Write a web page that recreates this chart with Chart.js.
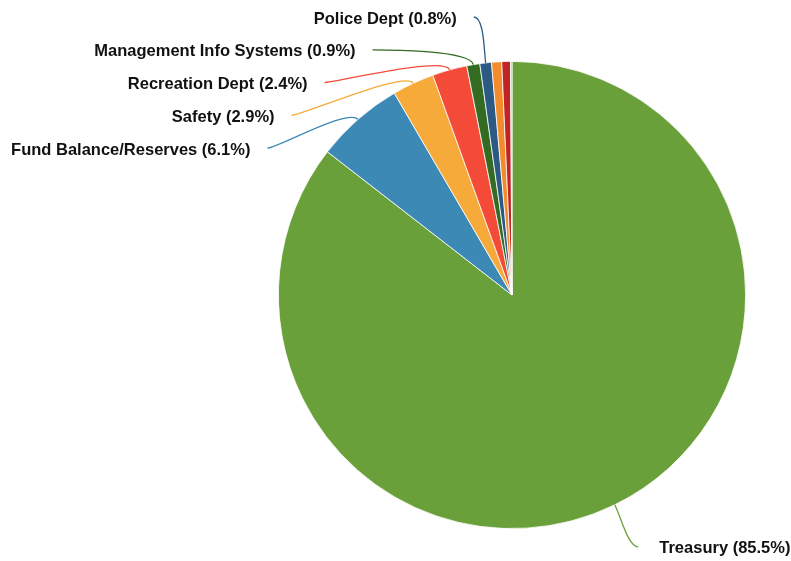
<!DOCTYPE html>
<html>
<head>
<meta charset="utf-8">
<title>Budget by Department</title>
<script src="https://cdn.jsdelivr.net/npm/chart.js@4"></script>
<style>
  html, body { margin: 0; padding: 0; background: #ffffff; }
  #wrap { width: 791px; height: 561px; position: relative; }
</style>
</head>
<body>
<div id="wrap"><canvas id="budgetPie"></canvas></div>
<script>
// departments, clockwise from 12 o'clock
const departments = [
    "Treasury",
    "Fund Balance/Reserves",
    "Safety",
    "Recreation Dept",
    "Management Info Systems",
    "Police Dept",
    "Legal",
    "City Clerk",
    "Council"
];
// share of the budget in percent
const shares = [85.5, 6.1, 2.9, 2.4, 0.9, 0.8, 0.7, 0.6, 0.1];
const sliceColors = [
    '#6aa03a',
    '#3d89b5',
    '#f6aa3a',
    '#f44b38',
    '#336b22',
    '#2b5a85',
    '#f28b2c',
    '#c02424',
    '#a3c97a'
];
// slices smaller than this get no callout
const minLabelShare = 0.8;

const total = shares.reduce((a, b) => a + b, 0);

// draws the leader lines and the outside labels
const calloutPlugin = {
    id: 'callouts',
    afterDatasetsDraw(chart) {
        const ctx = chart.ctx;
        const meta = chart.getDatasetMeta(0);
        // leader lines end on an ellipse around the pie
        const endRx = 287;
        const endRy = 280.5;
        const rowGap = 32.8;
        const topLimit = 17;

        let items = [];
        meta.data.forEach(function(arc, i) {
            if (shares[i] < minLabelShare) return;
            const p = arc.getProps(['x', 'y', 'startAngle', 'endAngle', 'outerRadius'], true);
            const mid = (p.startAngle + p.endAngle) / 2;
            items.push({
                index: i,
                cx: p.x,
                cy: p.y,
                r: p.outerRadius,
                mid: mid,
                side: Math.cos(mid) >= 0 ? 1 : -1,
                y: p.y + endRy * Math.sin(mid)
            });
        });

        // push labels down so they don't overlap
        [1, -1].forEach(function(side) {
            const group = items.filter(it => it.side == side).sort((a, b) => a.y - b.y);
            let prev = -Infinity;
            for (let k = 0; k < group.length; k++) {
                group[k].y = Math.max(group[k].y, prev + rowGap, topLimit);
                prev = group[k].y;
            }
        });

        ctx.save();
        ctx.font = 'bold 16.5px "Liberation Sans", Arial, sans-serif';
        ctx.textBaseline = 'middle';
        items.forEach(function(it) {
            const t = (it.y - it.cy) / endRy;
            const ex = it.cx + it.side * endRx * Math.sqrt(Math.max(1 - t * t, 0));
            const ey = it.y;
            const x0 = it.cx + it.r * Math.cos(it.mid);
            const y0 = it.cy + it.r * Math.sin(it.mid);
            // first handle points out of the slice, second one comes in level with the label
            const c1x = it.cx + (it.r + 15) * Math.cos(it.mid);
            const c1y = it.cy + (it.r + 15) * Math.sin(it.mid);
            const c2x = ex - it.side * 10;

            ctx.beginPath();
            ctx.moveTo(x0, y0);
            ctx.bezierCurveTo(c1x, c1y, c2x, ey, ex, ey);
            ctx.strokeStyle = sliceColors[it.index];
            ctx.lineWidth = 1.3;
            ctx.stroke();

            const pct = (shares[it.index] / total * 100).toFixed(1);
            const text = departments[it.index] + ' (' + pct + '%)';
            ctx.fillStyle = '#111111';
            if (it.side > 0) {
                ctx.textAlign = 'left';
                ctx.fillText(text, ex + 21, ey + 2);
            } else {
                ctx.textAlign = 'right';
                ctx.fillText(text, ex - 17, ey + 2);
            }
        });
        ctx.restore();
    }
};

const ctx = document.getElementById('budgetPie').getContext('2d');
const budgetPie = new Chart(ctx, {
    type: 'pie',
    data: {
        labels: departments,
        datasets: [{
            data: shares,
            backgroundColor: sliceColors,
            borderColor: '#ffffff',
            borderWidth: 0.8,
            hoverOffset: 0
        }]
    },
    options: {
        responsive: true,
        maintainAspectRatio: false,
        animation: false,
        layout: {
            padding: { top: 61, bottom: 32, left: 278, right: 45 }
        },
        plugins: {
            legend: { display: false },
            tooltip: { enabled: false }
        }
    },
    plugins: [calloutPlugin]
});
</script>
</body>
</html>
